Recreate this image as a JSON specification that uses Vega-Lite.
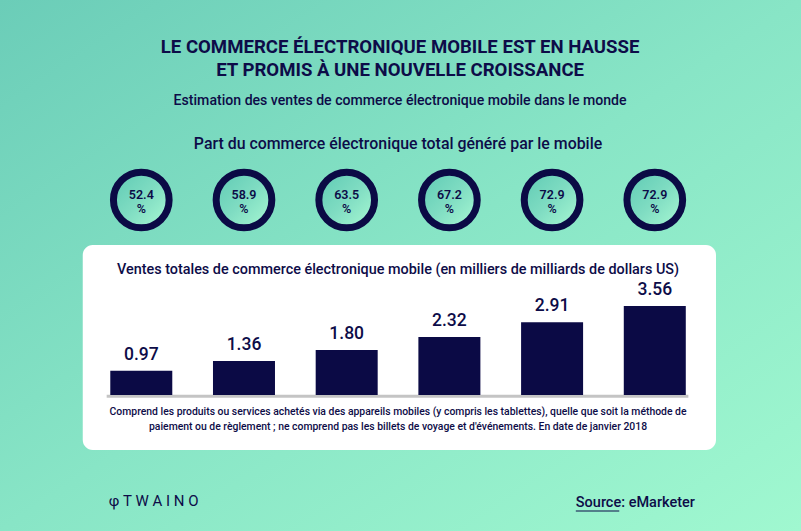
{
  "$schema": "https://vega.github.io/schema/vega-lite/v6.json",
  "width": 801,
  "height": 531,
  "padding": 0,
  "autosize": {"type": "none"},
  "background": "#86e3c4",
  "config": {"view": {"stroke": null}, "text": {"font": "Roboto", "color": "#0d0c48"}},
  "data": {"values": [
    {"year": 2016, "sales": 0.97, "share": 52.4},
    {"year": 2017, "sales": 1.36, "share": 58.9},
    {"year": 2018, "sales": 1.80, "share": 63.5},
    {"year": 2019, "sales": 2.32, "share": 67.2},
    {"year": 2020, "sales": 2.91, "share": 72.9},
    {"year": 2021, "sales": 3.56, "share": 72.9}
  ]},
  "encoding": {
    "x": {"type": "quantitative", "scale": {"domain": [2014.673, 2022.375], "nice": false, "zero": false}, "axis": null},
    "y": {"type": "quantitative", "scale": {"domain": [-5.44, 15.8], "nice": false, "zero": false}, "axis": null}
  },
  "layer": [
    {
      "data": {"values": [{}]},
      "mark": {"type": "rect", "fill": {"gradient": "linear", "x1": 0, "y1": 0, "x2": 1, "y2": 1, "stops": [{"offset": 0, "color": "#6bcdb8"}, {"offset": 0.5, "color": "#88e5c6"}, {"offset": 1, "color": "#a0f8d0"}]}},
      "encoding": {"x": {"value": 0}, "x2": {"value": "width"}, "y": {"value": 0}, "y2": {"value": "height"}}
    },
    {
      "data": {"values": [{}]},
      "mark": {"type": "rect", "fill": "#ffffff", "cornerRadius": 10},
      "encoding": {"x": {"datum": 2015.43}, "x2": {"datum": 2021.596}, "y": {"datum": 6.0}, "y2": {"datum": -2.2}}
    },
    {
      "data": {"values": [{}]},
      "mark": {"type": "rule", "stroke": "#c4c4c4", "strokeWidth": 3},
      "encoding": {"x": {"datum": 2015.663}, "x2": {"datum": 2021.327}, "y": {"datum": -0.05}}
    },
    {
      "mark": {"type": "bar", "width": 62, "color": "#0b0a45"},
      "encoding": {"x": {"field": "year"}, "y": {"field": "sales"}, "y2": {"datum": 0}}
    },
    {
      "mark": {"type": "text", "fontSize": 17.5, "fontWeight": 500, "baseline": "bottom", "dy": -7, "font": "Roboto"},
      "encoding": {"x": {"field": "year"}, "y": {"field": "sales"}, "text": {"field": "sales", "format": ".2f"}}
    },
    {
      "mark": {"type": "point", "shape": "circle", "size": 3100, "filled": true, "opacity": 1, "stroke": "#0b0a45", "strokeWidth": 7, "strokeOpacity": 1,
        "fill": {"gradient": "linear", "x1": 0, "y1": 0, "x2": 1, "y2": 1, "stops": [{"offset": 0, "color": "#5ecab4"}, {"offset": 0.5, "color": "#7fdcc2"}, {"offset": 1, "color": "#aafad4"}]}},
      "encoding": {"x": {"field": "year"}, "y": {"datum": 7.8}}
    },
    {
      "mark": {"type": "text", "fontSize": 12.5, "fontWeight": 600, "baseline": "middle"},
      "encoding": {"x": {"field": "year"}, "y": {"datum": 8.02}, "text": {"field": "share", "format": ".1f"}}
    },
    {
      "mark": {"type": "text", "fontSize": 12.5, "fontWeight": 600, "baseline": "middle"},
      "encoding": {"x": {"field": "year"}, "y": {"datum": 7.44}, "text": {"value": "%"}}
    },
    {
      "data": {"values": [{}]},
      "mark": {"type": "text", "fontSize": 18.6, "fontWeight": "bold", "baseline": "middle"},
      "encoding": {"x": {"datum": 2018.52}, "y": {"datum": 13.92}, "text": {"value": "LE COMMERCE ÉLECTRONIQUE MOBILE EST EN HAUSSE"}}
    },
    {
      "data": {"values": [{}]},
      "mark": {"type": "text", "fontSize": 18.6, "fontWeight": "bold", "baseline": "middle"},
      "encoding": {"x": {"datum": 2018.52}, "y": {"datum": 13.0}, "text": {"value": "ET PROMIS À UNE NOUVELLE CROISSANCE"}}
    },
    {
      "data": {"values": [{}]},
      "mark": {"type": "text", "fontSize": 14.1, "fontWeight": 500, "baseline": "middle"},
      "encoding": {"x": {"datum": 2018.52}, "y": {"datum": 11.76}, "text": {"value": "Estimation des ventes de commerce électronique mobile dans le monde"}}
    },
    {
      "data": {"values": [{}]},
      "mark": {"type": "text", "fontSize": 15.9, "fontWeight": 500, "baseline": "middle"},
      "encoding": {"x": {"datum": 2018.5}, "y": {"datum": 10.04}, "text": {"value": "Part du commerce électronique total généré par le mobile"}}
    },
    {
      "data": {"values": [{}]},
      "mark": {"type": "text", "fontSize": 14.4, "fontWeight": 500, "baseline": "middle"},
      "encoding": {"x": {"datum": 2018.5}, "y": {"datum": 5.0}, "text": {"value": "Ventes totales de commerce électronique mobile (en milliers de milliards de dollars US)"}}
    },
    {
      "data": {"values": [{}]},
      "mark": {"type": "text", "fontSize": 10.4, "fontWeight": 500, "baseline": "middle", "lineHeight": 15},
      "encoding": {"x": {"datum": 2018.5}, "y": {"datum": -0.68}, "text": {"value": ["Comprend les produits ou services achetés via des appareils mobiles (y compris les tablettes), quelle que soit la méthode de", "paiement ou de règlement ; ne comprend pas les billets de voyage et d'événements.  En date de janvier 2018"]}}
    },
    {
      "data": {"values": [{}]},
      "mark": {"type": "text", "fontSize": 15, "fontWeight": 400, "baseline": "middle", "align": "left"},
      "encoding": {"x": {"datum": 2015.683}, "y": {"datum": -4.24}, "text": {"value": "φ T W A I N O"}}
    },
    {
      "data": {"values": [{}]},
      "mark": {"type": "text", "fontSize": 14.5, "fontWeight": 500, "baseline": "middle", "align": "left"},
      "encoding": {"x": {"datum": 2020.231}, "y": {"datum": -4.32}, "text": {"value": "Source: eMarketer"}}
    },
    {
      "data": {"values": [{}]},
      "mark": {"type": "rule", "stroke": "#0d0c48", "strokeWidth": 1.2},
      "encoding": {"x": {"datum": 2020.231}, "x2": {"datum": 2020.654}, "y": {"datum": -4.64}}
    }
  ]
}
